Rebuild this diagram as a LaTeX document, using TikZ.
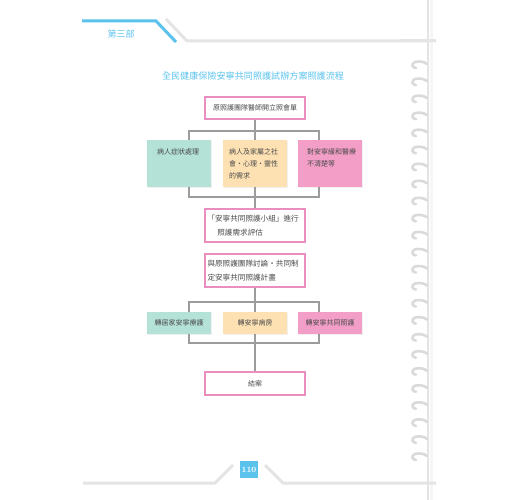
\documentclass[tikz,border=0pt]{standalone}
\usepackage{fontspec}
\newfontfamily\cjk{Noto Sans CJK TC}
\usetikzlibrary{shadows,backgrounds}
\definecolor{pblue}{HTML}{5BC2EC}
\definecolor{pgray}{HTML}{E4E4E4}
\definecolor{lgray}{HTML}{9C9C9C}
\definecolor{pinkb}{HTML}{EA8DBF}
\definecolor{tealf}{HTML}{B4E2D7}
\definecolor{peachf}{HTML}{FEE1B3}
\definecolor{pinkf}{HTML}{F29EC7}
\definecolor{txt}{HTML}{4A4A4A}
\begin{document}
\begin{tikzpicture}[x=1pt,y=-1pt,
  deco/.style={pgray, line width=3pt},
  bluedeco/.style={pblue, line width=3pt},
  hookst/.style={pgray!90!gray, line width=2.6pt, line cap=round},
  conn/.style={lgray, line width=1.6pt},
  shad/.style={drop shadow={shadow xshift=1.2pt, shadow yshift=-1.2pt, opacity=0.12}},
  whitebox/.style={draw=pinkb, line width=1.8pt, fill=white, minimum width=100pt,
    minimum height=22pt, inner sep=0pt, shad,
    font=\cjk\fontsize{7}{12}\selectfont, text=txt},
  colbox/.style={minimum width=64pt, minimum height=47pt, inner sep=0pt, shad},
  rowbox/.style={minimum width=64pt, minimum height=22pt, inner sep=0pt, shad,
    font=\cjk\fontsize{7}{12}\selectfont, text=txt},
  boxtxt/.style={font=\cjk\fontsize{7}{12}\selectfont, text=txt, inner sep=0pt, align=left, anchor=north west},
  bigtxt/.style={font=\cjk\fontsize{7.6}{13.8}\selectfont, align=left, text width=95pt},
]
\useasboundingbox (0,0) rectangle (520,500);

% page decoration
\draw[bluedeco] (82,21) -- (156,21) -- (176,42);
\draw[deco] (166,19) -- (187,41) -- (436,41);
\draw[gray!7, line width=3pt] (431,0) -- (431,500);
\draw[pgray, line width=2.5pt] (428,0) -- (428,500);
\draw[deco] (400,41) -- (436,41);
\draw[deco] (83,483) -- (215,483) -- (233,465);
\draw[deco] (265,465) -- (283,483) -- (436,483);
\foreach \k in {0,...,23}{
  \pgfmathsetmacro{\yy}{63+17.04*\k}
  \draw[hookst] (416,\yy+5) .. controls (412,\yy+5) and (411,\yy+0.5) .. (415,\yy-1)
     .. controls (419,\yy-2) and (424,\yy-1.5) .. (427,\yy+1);
}
\node[font=\cjk\fontsize{9}{10}\selectfont, text=pblue] (part) at (121,34) {第三部};
\node[fill=pblue, minimum width=18pt, minimum height=17pt, inner sep=0pt,
  text=white, font=\fontsize{8}{9}\selectfont\bfseries] (pg) at (249,469.5) {110};

% title
\node[font=\cjk\fontsize{9.1}{10}\selectfont, text=pblue] (title) at (253,76)
  {全民健康保險安寧共同照護試辦方案照護流程};

% boxes
\node[whitebox] (b1) at (255,108) {原照護團隊醫師開立照會單};
\node[colbox, fill=tealf] (t1) at (179,163.5) {};
\node[colbox, fill=peachf] (t2) at (255,163.5) {};
\node[colbox, fill=pinkf] (t3) at (330,163.5) {};
\node[boxtxt] (t1x) at (157,148.7) {病人症狀處理};
\node[boxtxt] (t2x) at (229,148.7) {病人及家屬之社\\會・心理・靈性\\的需求};
\node[boxtxt] (t3x) at (307,148.7) {對安寧緩和醫療\\不清楚等};
\node[whitebox, minimum height=33pt, bigtxt] (b3) at (255,225.5)
  {「安寧共同照護小組」進行\\\hspace*{1.3em}照護需求評估};
\node[whitebox, minimum height=33pt, bigtxt] (b4) at (255,270.5)
  {與原照護團隊討論・共同制\\定安寧共同照護計畫};
\node[rowbox, fill=tealf] (r1) at (179,323) {轉居家安寧療護};
\node[rowbox, fill=peachf] (r2) at (255,323) {轉安寧病房};
\node[rowbox, fill=pinkf] (r3) at (330,323) {轉安寧共同照護};
\node[whitebox, minimum height=23pt] (b5) at (255,383.5) {結案};

% connectors
\coordinate (k1) at (189,131);
\coordinate (k2) at (319,197);
\coordinate (k3) at (189,302);
\coordinate (k4) at (319,343);
\begin{scope}[on background layer]
  \draw[conn] (b1.south) -- (b3.north);
  \draw[conn] (k1) rectangle (k2);
  \draw[conn] (b4.south) -- (b5.north);
  \draw[conn] (k3) rectangle (k4);
\end{scope}
\end{tikzpicture}
\end{document}
